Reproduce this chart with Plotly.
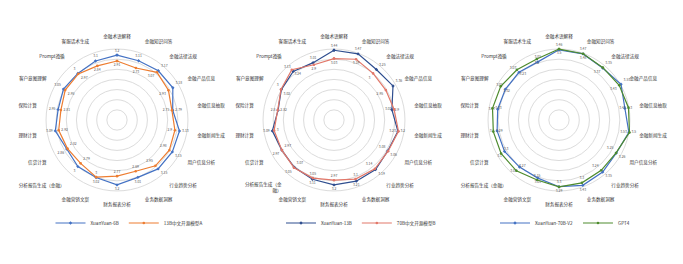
import math
import plotly.graph_objects as go

categories = ["金融术语解释", "金融知识问答", "金融法律法规", "金融产品信息", "金融信息抽取",
              "金融新闻生成", "用户信息分析", "行业趋势分析", "业务数据洞察", "财务报表分析",
              "金融营销文案", "分析报告生成（金融）", "信贷计算", "理财计算", "保险计算",
              "客户意图理解", "Prompt遵循", "客服话术生成"]
# chart 2 shows one label wrapped onto two lines
c2_ticklabels = [c if c != "分析报告生成（金融）" else "分析报告生成（金<br>融）" for c in categories]

# chart 1
c1_names = ["XuanYuan-6B", "13B中文开源模型A"]
c1_a = [3.20, 3.11, 3.17, 3.18, 2.79, 3.13, 3.15, 3.15, 3.01, 3.20, 3.02, 3.00, 2.86, 3.09, 2.95, 3.05, 3.00, 3.10]
c1_b = [2.91, 2.73, 3.07, 2.93, 2.75, 2.90, 2.98, 2.95, 2.69, 2.77, 3.00, 2.79, 2.82, 2.92, 2.81, 2.95, 2.97, 2.84]
# chart 2
c2_names = ["XuanYuan-13B", "70B中文开源模型B"]
c2_a = [3.44, 3.47, 3.25, 3.36, 2.90, 3.20, 3.06, 3.19, 3.21, 3.20, 3.11, 3.05, 2.97, 3.09, 2.80, 3.00, 3.13, 3.01]
c2_b = [3.03, 3.19, 3.00, 2.95, 3.01, 3.23, 3.08, 3.14, 3.10, 2.97, 3.05, 3.07, 2.97, 3.00, 2.82, 3.02, 3.24, 2.90]
# chart 3
c3_names = ["XuanYuan-70B-V2", "GPT4"]
c3_a = [3.46, 3.47, 3.35, 3.53, 3.30, 3.50, 3.26, 3.35, 3.43, 3.29, 3.05, 3.03, 3.10, 3.10, 3.07, 3.05, 3.07, 3.05]
c3_b = [3.50, 3.48, 3.37, 3.43, 3.48, 3.53, 3.25, 3.24, 3.30, 3.30, 3.15, 3.27, 3.30, 3.29, 3.33, 3.32, 3.23, 3.20]

FONT = "Noto Sans CJK SC, Noto Sans, sans-serif"


def text_positions(n, outward):
    out = []
    for i in range(n):
        t = math.radians(i * 360.0 / n)
        dx, dy = math.sin(t), math.cos(t)
        if not outward:
            dx, dy = -dx, -dy
        v = "top" if dy > 0.38 else ("bottom" if dy < -0.38 else "middle")
        h = "right" if dx > 0.38 else ("left" if dx < -0.38 else "center")
        out.append(f"{v} {h}")
    return out


charts = [
    (c1_names, c1_a, c1_b, ("#4472C4", "#ED7D31"), 117, 129, categories),
    (c2_names, c2_a, c2_b, ("#2F4E8F", "#E2786A"), 334, 361, c2_ticklabels),
    (c3_names, c3_a, c3_b, ("#4472C4", "#4E8B2E"), 559, 565, categories),
]

W, H = 683, 264
CY, R = 120, 74
fig = go.Figure()
layout = {}
for k, (names, a, b, cols, cx, lx, ticklabels) in enumerate(charts):
    pid = "polar" if k == 0 else f"polar{k + 1}"
    lid = "legend" if k == 0 else f"legend{k + 1}"
    for j, (nm, vals, col) in enumerate([(names[0], a, cols[0]), (names[1], b, cols[1])]):
        fig.add_trace(go.Scatterpolar(
            r=vals + [vals[0]],
            theta=categories + [categories[0]],
            mode="lines+markers+text",
            text=[f"{v:g}" for v in vals] + [""],
            textposition=text_positions(len(vals), j == 0) + ["top center"],
            textfont=dict(size=3.4, color="#595959", family=FONT),
            name=nm,
            line=dict(color=col, width=1.2),
            marker=dict(color=col, size=2.6, symbol="diamond" if j == 0 else "circle"),
            subplot=pid,
            legend=lid,
            cliponaxis=False,
        ))
    layout[pid] = dict(
        domain=dict(x=[(cx - R) / W, (cx + R) / W], y=[(H - CY - R) / H, (H - CY + R) / H]),
        bgcolor="white",
        radialaxis=dict(range=[0, 3.65], dtick=0.5, showticklabels=False, ticks="",
                        showline=False, gridcolor="#dcdcdc", gridwidth=0.6),
        angularaxis=dict(rotation=90, direction="clockwise", showgrid=False,
                         showline=False, ticks="outside", ticklen=6,
                         tickcolor="rgba(0,0,0,0)",
                         tickmode="array", tickvals=categories, ticktext=ticklabels,
                         tickfont=dict(size=4.6, color="#333333", family=FONT)),
    )
    layout[lid] = dict(orientation="h", x=lx / W, xanchor="center", y=(H - 223) / H,
                       yanchor="middle", font=dict(size=4.6, color="#333333", family=FONT),
                       bgcolor="rgba(0,0,0,0)", itemwidth=30, tracegroupgap=0)

fig.update_layout(width=W, height=H, margin=dict(l=0, r=0, t=0, b=0),
                  paper_bgcolor="white", font=dict(family=FONT), showlegend=True, **layout)
fig.write_html("out.html")
